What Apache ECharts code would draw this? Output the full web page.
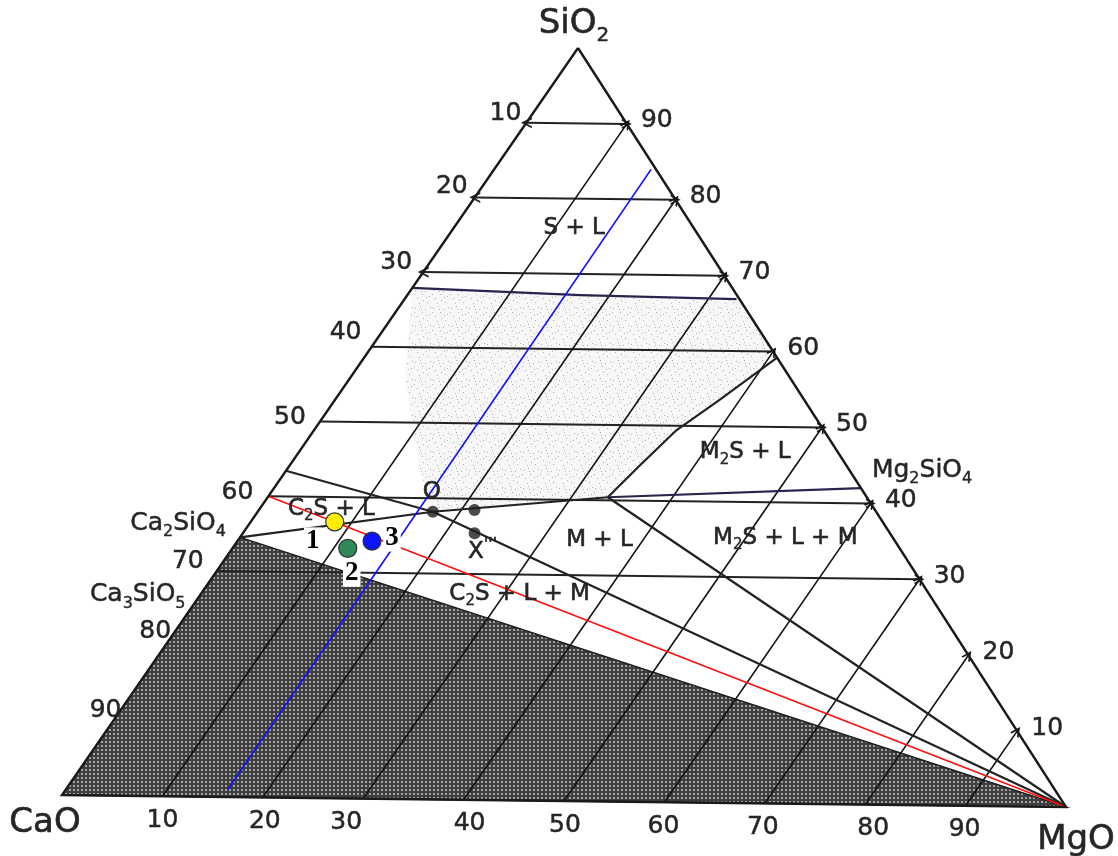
<!DOCTYPE html>
<html>
<head>
<meta charset="utf-8">
<title>CaO–MgO–SiO2</title>
<script src="https://cdn.jsdelivr.net/npm/echarts@6.0.0/dist/echarts.min.js"></script>
<style>
html, body { margin: 0; padding: 0; background: #ffffff; }
#chart { width: 1118px; height: 856px; }
</style>
</head>
<body>
<div id="chart"></div>
<script>
// ---- Data: compositions in wt%, written as [MgO, SiO2]; CaO is the balance ----
const TICKS = [10, 20, 30, 40, 50, 60, 70, 80, 90];
const SIO2_LINES_TWO_ARROWS = [90, 80, 70];
const SIO2_LINES_NO_ARROW = [60];
const SIO2_LINES_ONE_ARROW = [50, 40, 30];
const MGO_LINES = [10, 20, 30, 40, 50, 60, 70, 80, 90];

const CORNERS = [[0, 100], [0, 0], [100, 0], [0, 100]];   // SiO2, CaO, MgO
const SOLID_FIELD = [[0, 0], [0, 34.5], [100, 0]];         // CaO – Ca2SiO4 – MgO
const LIQUID_FIELD = [[0, 67.9], [17.1, 67.2], [32.8, 66.9], [40.8, 59.2], [38.0, 53.5],
  [35.8, 49.4], [34.6, 44.7], [33.6, 40.4], [17.3, 38.2], [13.2, 43.7], [5.6, 55.6]];

const SILICA_LIQUIDUS = [[0, 67.9], [17.1, 67.2], [32.8, 66.9]];
const FORSTERITE_LIQUIDUS = [[33.6, 40.4], [34.6, 44.7], [35.8, 49.4], [38.0, 53.5], [40.8, 59.2]];
const C2S_LIQUIDUS = [[0, 43.4], [17.3, 38.2]];
const C2S_TIE = [[0, 34.5], [17.3, 38.2], [33.6, 40.4]];
const TIE_O_MGO = [[17.3, 38.2], [100, 0]];
const TIE_J_MGO = [[33.6, 40.4], [100, 0]];
const TIE_J_M2S = [[33.6, 40.4], [58, 42]];
const BASICITY_LINE = [[0, 40], [100, 0]];      // CaO / SiO2 = 1.5
const MGO_16_LINE = [[16, 1], [15.5, 84]];

const POINT_O = [17.3, 38.2];
const POINT_UPPER = [21.3, 38.5];
const POINT_X = [22.9, 35.4];

const SAMPLE_NAMES = ['1', '2', '3'];
const SAMPLE_MGO = [8.3, 11.4, 13.3];
const SAMPLE_SIO2 = [36.7, 33.2, 34.2];

const FIELD_NAMES = ['S + L', 'M{r|2}S + L', 'M{r|2}S + L + M', 'M + L', 'C{r|2}S + L + M', 'C{r|2}S + L'];
const FIELD_AT = [[11.9, 76.1], [44.1, 46.6], [53.9, 35.3], [35.7, 34.7], [31.5, 27.4], [7.1, 38.4]];

const COMPOUND_NAMES = ['Ca{c|2}SiO{c|4}', 'Ca{c|3}SiO{c|5}', 'Mg{c|2}SiO{c|4}'];
const COMPOUND_AT = [[0, 34.5], [0, 26.3], [58, 42]];

const VERTEX_NAMES = ['SiO{v|2}', 'CaO', 'MgO'];
const VERTEX_AT = [[0, 100], [0, 0], [100, 0]];

// ---- Layout: corner positions on the 1118 x 856 plot plane ----
const FRAME = { CaO: [62, 795], MgO: [1066, 807], SiO2: [578, 48] };

function toXY(c) {
  const m = c[0] / 100, s = c[1] / 100, a = 1 - m - s;
  return [
    a * FRAME.CaO[0] + m * FRAME.MgO[0] + s * FRAME.SiO2[0],
    a * FRAME.CaO[1] + m * FRAME.MgO[1] + s * FRAME.SiO2[1]
  ];
}

// label shifts in px from their anchor points
const LEFT_TICK_SHIFT = [[-21, -9], [-23, -11], [-27, -10], [-26, -14], [-30, -4], [-31, -4], [-29, -9], [-10, -14], [-8, -10]];
const RIGHT_TICK_SHIFT = [30, -3];
const BOTTOM_TICK_DX = [0, 2, -17, 6, 1, -1, -2, 8, -1];
const BOTTOM_TICK_DY = 24;
const COMPOUND_SHIFT = [[-62, -14], [-60, -4], [61, -18]];
const VERTEX_SHIFT = [[-4, -24], [-17, 28], [10, 33]];
const SAMPLE_SHIFT = [[-22, 19], [4, 25], [20, -3]];

const FONT = 'DejaVu Sans';
const INK = '#262626';

const TEXT_KINDS = {
  tick:     { size: 25, family: FONT, color: INK, weight: 'normal', stroke: 0.5 },
  vertex:   { size: 34, family: FONT, color: INK, weight: 'normal', stroke: 0.6, lineHeight: 44 },
  compound: { size: 25, family: FONT, color: INK, weight: 'normal', stroke: 0.5, lineHeight: 34 },
  field:    { size: 23, family: FONT, color: INK, weight: 'normal', stroke: 0.6, lineHeight: 30 },
  point:    { size: 23, family: FONT, color: INK, weight: 'normal', stroke: 0.6, lineHeight: 30 },
  sample:   { size: 27, family: 'Liberation Serif', color: '#000', weight: 'bold', stroke: 0,
              background: '#ffffff', padding: [0, 2] }
};

const RICH = {
  v: { fontSize: 20, lineHeight: 20, verticalAlign: 'bottom', fontFamily: FONT, fill: INK, stroke: INK, lineWidth: 0.5 },
  c: { fontSize: 16, lineHeight: 16, verticalAlign: 'bottom', fontFamily: FONT, fill: INK, stroke: INK, lineWidth: 0.4 },
  r: { fontSize: 15, lineHeight: 15, verticalAlign: 'bottom', fontFamily: FONT, fill: INK, stroke: INK, lineWidth: 0.4 },
  p: { fontSize: 16, lineHeight: 16, verticalAlign: 'top', fontFamily: FONT, fill: INK, stroke: INK, lineWidth: 0.6 }
};

// ---- Fill textures ----
function texture(size, base, marks, markColor, markSize) {
  const cv = document.createElement('canvas');
  cv.width = cv.height = size;
  const ctx = cv.getContext('2d');
  ctx.fillStyle = base;
  ctx.fillRect(0, 0, size, size);
  ctx.fillStyle = markColor;
  marks.forEach(([x, y]) => ctx.fillRect(x, y, markSize, markSize));
  return cv;
}
const MESH = texture(4, '#3e3e3e', [[1, 1]], '#a4a4a4', 2);
const STIPPLE = texture(18, '#f7f7f7',
  [[1, 2], [6, 0], [11, 3], [15, 8], [3, 10], [8, 6], [13, 14], [5, 15], [9, 12], [0, 6], [16, 1], [7, 3], [12, 9]],
  '#b0b0b0', 1);

// ---- Series builders ----
function polygonSeries(points, style) {
  return {
    type: 'custom', coordinateSystem: 'cartesian2d', silent: true,
    data: [toXY(points[0])],
    renderItem: (params, api) => ({
      type: 'polygon',
      shape: { points: points.map(p => api.coord(toXY(p))) },
      style: style
    })
  };
}

// open arrow head, tip pointing along the line
const CHEVRON = 'path://M0,10L5,0L10,10L8.2,10L5,3.6L1.8,10Z';

function segmentSeries(segments, color, width, symbol) {
  return {
    type: 'lines', coordinateSystem: 'cartesian2d', polyline: false, silent: true,
    symbol: symbol, symbolSize: [11, 10],
    lineStyle: { color: color, width: width, opacity: 1, curveness: 0 },
    data: segments.map(seg => ({ coords: seg.map(toXY) }))
  };
}

function pathSeries(paths, color, width) {
  return {
    type: 'lines', coordinateSystem: 'cartesian2d', polyline: true, silent: true,
    lineStyle: { color: color, width: width, opacity: 1 },
    data: paths.map(path => ({ coords: path.map(toXY) }))
  };
}

const sio2Line = v => [[0, v], [100 - v, v]];
const mgoLine = v => [[v, 0], [v, 100 - v]];

// ---- Text items ----
const TEXT_ITEMS = [];
TICKS.forEach((v, i) => {
  TEXT_ITEMS.push({ text: String(v), at: [0, 100 - v], shift: LEFT_TICK_SHIFT[i], kind: 'tick' });
  TEXT_ITEMS.push({ text: String(v), at: [100 - v, v], shift: RIGHT_TICK_SHIFT, kind: 'tick' });
  TEXT_ITEMS.push({ text: String(v), at: [v, 0], shift: [BOTTOM_TICK_DX[i], BOTTOM_TICK_DY], kind: 'tick' });
});
VERTEX_NAMES.forEach((t, i) => TEXT_ITEMS.push({ text: t, at: VERTEX_AT[i], shift: VERTEX_SHIFT[i], kind: 'vertex' }));
COMPOUND_NAMES.forEach((t, i) => TEXT_ITEMS.push({ text: t, at: COMPOUND_AT[i], shift: COMPOUND_SHIFT[i], kind: 'compound' }));
FIELD_NAMES.forEach((t, i) => TEXT_ITEMS.push({ text: t, at: FIELD_AT[i], shift: [0, 0], kind: 'field' }));
TEXT_ITEMS.push({ text: 'O', at: POINT_O, shift: [-1, -20], kind: 'point' });
TEXT_ITEMS.push({ text: "X{p|'''}", at: POINT_X, shift: [8, 19], kind: 'point' });
SAMPLE_NAMES.forEach((t, i) => TEXT_ITEMS.push({ text: t, at: [SAMPLE_MGO[i], SAMPLE_SIO2[i]], shift: SAMPLE_SHIFT[i], kind: 'sample' }));

const SAMPLE_COLORS = ['#ffee00', '#2f8a58', '#0a14ff'];

const chart = echarts.init(document.getElementById('chart'));
chart.setOption({
  animation: false,
  backgroundColor: '#ffffff',
  grid: { left: 0, right: 0, top: 0, bottom: 0 },
  xAxis: { type: 'value', min: 0, max: 1118, show: false },
  yAxis: { type: 'value', min: 0, max: 856, inverse: true, show: false },
  series: [
    polygonSeries(LIQUID_FIELD, { fill: { image: STIPPLE, repeat: 'repeat' } }),
    polygonSeries(SOLID_FIELD, { fill: { image: MESH, repeat: 'repeat' }, stroke: '#1e1e1e', lineWidth: 1.5 }),

    segmentSeries(SIO2_LINES_TWO_ARROWS.map(sio2Line), '#222222', 2, [CHEVRON, CHEVRON]),
    segmentSeries(SIO2_LINES_ONE_ARROW.map(sio2Line), '#222222', 2, ['none', CHEVRON]),
    segmentSeries(SIO2_LINES_NO_ARROW.map(sio2Line), '#222222', 2, ['none', 'none']),
    segmentSeries(MGO_LINES.map(mgoLine), '#111111', 1.6, ['none', CHEVRON]),

    pathSeries([SILICA_LIQUIDUS, TIE_J_M2S], '#25254e', 2.2),
    pathSeries([FORSTERITE_LIQUIDUS, C2S_LIQUIDUS, C2S_TIE, TIE_O_MGO, TIE_J_MGO], '#222222', 2.2),
    pathSeries([BASICITY_LINE], '#ff1010', 1.7),
    pathSeries([MGO_16_LINE], '#1010ff', 1.7),
    pathSeries([CORNERS], '#1a1a1a', 2.4),

    {
      type: 'scatter', silent: true, symbol: 'circle', symbolSize: 12,
      itemStyle: { color: '#1e1e1e' },
      data: [POINT_O, POINT_UPPER, POINT_X].map(toXY)
    },
    {
      type: 'scatter', silent: true, symbol: 'circle', symbolSize: 18,
      itemStyle: { borderColor: '#333333', borderWidth: 1.2, opacity: 1 },
      data: SAMPLE_NAMES.map((n, i) => ({
        value: toXY([SAMPLE_MGO[i], SAMPLE_SIO2[i]]),
        itemStyle: { color: SAMPLE_COLORS[i] }
      }))
    },
    {
      type: 'custom', coordinateSystem: 'cartesian2d', silent: true, z: 10,
      data: TEXT_ITEMS.map(t => toXY(t.at)),
      renderItem: (params, api) => {
        const t = TEXT_ITEMS[params.dataIndex];
        const p = api.coord(toXY(t.at));
        const k = TEXT_KINDS[t.kind];
        return {
          type: 'text',
          x: p[0] + t.shift[0],
          y: p[1] + t.shift[1],
          style: {
            text: t.text,
            fill: k.color,
            stroke: k.stroke ? k.color : null,
            lineWidth: k.stroke,
            fontSize: k.size,
            fontFamily: k.family,
            fontWeight: k.weight,
            lineHeight: k.lineHeight,
            align: 'center',
            verticalAlign: 'middle',
            rich: RICH,
            backgroundColor: k.background,
            padding: k.padding
          }
        };
      }
    }
  ]
});
</script>
</body>
</html>
